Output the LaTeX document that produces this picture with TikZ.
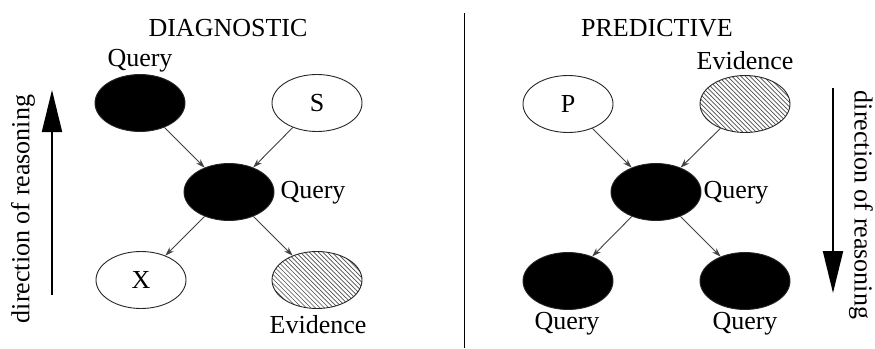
\documentclass[tikz,border=0pt]{standalone}
\usepackage{fontspec}
\setmainfont{Liberation Serif}
\usetikzlibrary{shapes.geometric,arrows.meta,patterns}
\pgfdeclarepatternformonly{myhatch}{\pgfqpoint{-1pt}{-1pt}}{\pgfqpoint{5pt}{5pt}}{\pgfqpoint{4.5pt}{4.5pt}}{%
  \pgfsetlinewidth{0.7pt}%
  \pgfpathmoveto{\pgfqpoint{0pt}{4.5pt}}%
  \pgfpathlineto{\pgfqpoint{4.6pt}{-0.1pt}}%
  \pgfusepath{stroke}}
\begin{document}
\begin{tikzpicture}[x=1pt,y=-1pt,
  font=\fontsize{26}{30}\selectfont,
  nd/.style={ellipse,draw=black!85,line width=0.9pt,minimum width=90pt,minimum height=57pt,inner sep=0pt},
  qnode/.style={nd,fill=black},
  wnode/.style={nd,fill=white},
  enode/.style={nd,pattern=myhatch,pattern color=black!70},
  lbl/.style={inner sep=0pt,anchor=center},
  edge/.style={draw=black!75,line width=0.9pt,-{Stealth[length=9pt,width=6pt]}},
  bigarrow/.style={line width=2pt,-{Triangle[length=42pt,width=20pt]}}]
\useasboundingbox (0,0) rectangle (875,348);
% Left panel
\node[lbl] (t1) at (228,28) {DIAGNOSTIC};
\node[qnode] (a) at (140,103) {};
\node[wnode] (s) at (317,103) {S};
\node[qnode] (m) at (229,192) {};
\node[wnode] (x) at (141,280) {X};
\node[enode] (e) at (317,280) {};
\node[lbl] (qa) at (140,61) {Query};
\node[lbl] (qm) at (313,193) {Query};
\node[lbl] (le) at (318,325) {Evidence};
\draw[edge] (a) -- (m);
\draw[edge] (s) -- (m);
\draw[edge] (m) -- (x);
\draw[edge] (m) -- (e);
\coordinate (u1) at (52,295);
\coordinate (u2) at (52,90);
\draw[bigarrow] (u1) -- (u2);
\node[lbl,rotate=90] (d1) at (23,209) {direction of reasoning};
% divider
\coordinate (v1) at (464,13);
\coordinate (v2) at (464,348);
\draw[line width=1pt] (v1) -- (v2);
% Right panel
\node[lbl] (t2) at (657,28) {PREDICTIVE};
\node[wnode] (p) at (568,104) {P};
\node[enode] (ev) at (745,104) {};
\node[qnode] (m2) at (656,192) {};
\node[qnode] (b1) at (568,281) {};
\node[qnode] (b2) at (745,281) {};
\node[lbl] (lev) at (745,61) {Evidence};
\node[lbl] (qm2) at (736,193) {Query};
\node[lbl] (qb1) at (567,324) {Query};
\node[lbl] (qb2) at (745,324) {Query};
\draw[edge] (p) -- (m2);
\draw[edge] (ev) -- (m2);
\draw[edge] (m2) -- (b1);
\draw[edge] (m2) -- (b2);
\coordinate (w1) at (833,88);
\coordinate (w2) at (833,293);
\draw[bigarrow] (w1) -- (w2);
\node[lbl,rotate=-90] (d2) at (861,205) {direction of reasoning};
\end{tikzpicture}
\end{document}
